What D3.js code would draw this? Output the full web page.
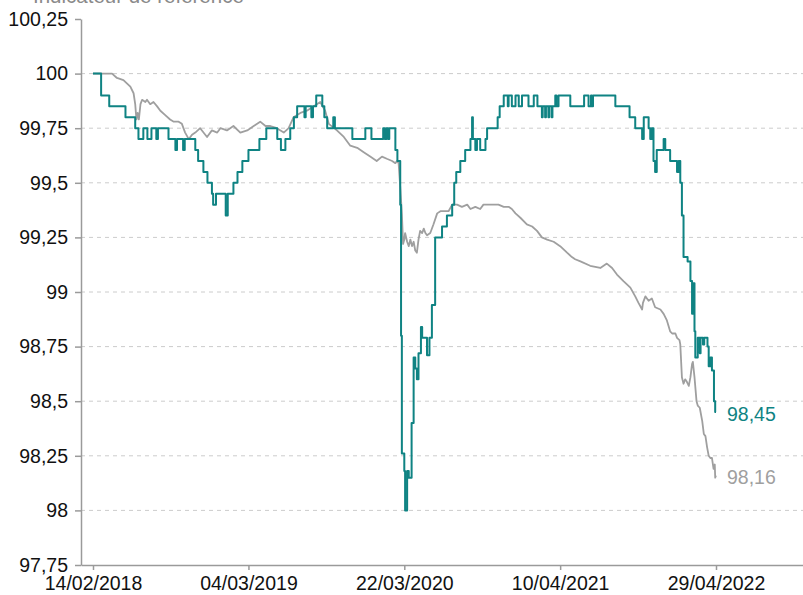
<!DOCTYPE html>
<html>
<head>
<meta charset="utf-8">
<script src="https://cdn.jsdelivr.net/npm/d3@7"></script>
<style>
  body { margin: 0; background: #fff; }
  svg { display: block; }
  text { font-family: "Liberation Sans", Arial, Helvetica, sans-serif; }
</style>
</head>
<body>
<div id="chart"></div>
<script>
// Fund vs reference index, base 100 on 14/02/2018

var chartTitle = "Indicateur de référence";

// y axis ticks (base 100)
var yTicks = [97.75, 98, 98.25, 98.5, 98.75, 99, 99.25, 99.5, 99.75, 100, 100.25];
var gridTicks = [98, 98.25, 98.5, 98.75, 99, 99.25, 99.5, 99.75, 100];

// x axis tick dates
var xTickDates = ["2018-02-14", "2019-03-04", "2020-03-22", "2021-04-10", "2022-04-29"];

// fund (teal), step series [date, value]
var fundSeries = [
    ["2018-02-14",100.00],["2018-03-06",99.90],["2018-03-26",99.85],["2018-05-05",99.80],
    ["2018-05-29",99.75],["2018-06-06",99.70],["2018-06-18",99.75],["2018-06-28",99.70],
    ["2018-07-08",99.75],["2018-07-20",99.70],["2018-07-24",99.75],["2018-08-19",99.70],
    ["2018-09-05",99.65],["2018-09-09",99.70],["2018-09-24",99.65],["2018-09-28",99.70],
    ["2018-10-24",99.65],["2018-10-31",99.60],["2018-11-13",99.55],["2018-11-23",99.50],
    ["2018-12-04",99.45],["2018-12-07",99.40],["2018-12-14",99.45],["2019-01-07",99.35],
    ["2019-01-12",99.45],["2019-01-26",99.50],["2019-02-05",99.55],["2019-02-17",99.60],
    ["2019-03-04",99.65],["2019-03-31",99.70],["2019-04-17",99.75],["2019-05-14",99.70],
    ["2019-05-23",99.65],["2019-06-03",99.70],["2019-06-15",99.75],["2019-06-24",99.80],
    ["2019-07-02",99.85],["2019-07-20",99.80],["2019-07-23",99.85],["2019-08-06",99.80],
    ["2019-08-10",99.85],["2019-08-18",99.90],["2019-09-02",99.85],["2019-09-07",99.80],
    ["2019-09-14",99.75],["2019-09-29",99.80],["2019-10-03",99.75],["2019-11-15",99.70],
    ["2019-12-17",99.75],["2020-01-01",99.70],["2020-01-30",99.75],["2020-02-03",99.70],
    ["2020-02-07",99.75],["2020-02-11",99.70],["2020-02-14",99.75],["2020-02-29",99.65],
    ["2020-03-05",99.60],["2020-03-12",99.40],["2020-03-14",98.80],["2020-03-16",98.26],
    ["2020-03-22",98.18],["2020-03-24",98.00],["2020-03-29",98.18],["2020-04-02",98.15],
    ["2020-04-09",98.40],["2020-04-14",98.70],["2020-04-18",98.65],["2020-04-22",98.60],
    ["2020-04-26",98.72],["2020-05-02",98.84],["2020-05-05",98.79],["2020-05-17",98.71],
    ["2020-05-23",98.79],["2020-05-29",98.94],["2020-06-06",99.25],["2020-06-23",99.30],
    ["2020-07-05",99.35],["2020-07-18",99.40],["2020-07-23",99.50],["2020-07-28",99.55],
    ["2020-08-07",99.60],["2020-08-19",99.65],["2020-09-01",99.70],["2020-09-05",99.80],
    ["2020-09-07",99.70],["2020-09-13",99.65],["2020-09-17",99.70],["2020-09-25",99.65],
    ["2020-10-08",99.70],["2020-10-12",99.75],["2020-11-07",99.80],["2020-11-12",99.85],
    ["2020-11-22",99.90],["2020-12-02",99.85],["2020-12-04",99.90],["2020-12-12",99.85],
    ["2020-12-21",99.90],["2020-12-29",99.85],["2021-01-06",99.90],["2021-01-22",99.85],
    ["2021-02-04",99.90],["2021-02-13",99.85],["2021-02-24",99.80],["2021-02-26",99.85],
    ["2021-03-04",99.80],["2021-03-06",99.85],["2021-03-12",99.80],["2021-03-14",99.85],
    ["2021-03-20",99.80],["2021-03-22",99.85],["2021-03-29",99.90],["2021-04-01",99.85],
    ["2021-04-06",99.90],["2021-05-05",99.85],["2021-06-08",99.90],["2021-06-19",99.85],
    ["2021-06-25",99.90],["2021-06-27",99.85],["2021-06-30",99.90],["2021-08-24",99.85],
    ["2021-09-28",99.80],["2021-10-12",99.75],["2021-10-29",99.70],["2021-11-02",99.80],
    ["2021-11-14",99.75],["2021-11-18",99.70],["2021-11-22",99.75],["2021-11-26",99.60],
    ["2021-11-30",99.55],["2021-12-04",99.65],["2021-12-21",99.70],["2021-12-25",99.65],
    ["2022-01-06",99.60],["2022-01-23",99.55],["2022-01-27",99.60],["2022-01-31",99.50],
    ["2022-02-04",99.35],["2022-02-08",99.16],["2022-02-18",99.14],["2022-02-25",99.05],
    ["2022-03-01",98.90],["2022-03-03",99.04],["2022-03-07",98.82],["2022-03-09",98.70],
    ["2022-03-15",98.79],["2022-03-20",98.72],["2022-03-22",98.79],["2022-03-28",98.76],
    ["2022-03-31",98.79],["2022-04-08",98.75],["2022-04-11",98.66],["2022-04-15",98.70],
    ["2022-04-19",98.64],["2022-04-24",98.50],["2022-04-27",98.45],["2022-04-29",98.45]
];

// reference index (grey) [date, value]
var refSeries = [
    ["2018-02-14",100.00],["2018-04-02",100.00],["2018-04-14",99.98],["2018-04-30",99.97],
    ["2018-05-17",99.94],["2018-05-25",99.91],["2018-05-29",99.86],["2018-06-01",99.79],
    ["2018-06-04",99.82],["2018-06-07",99.79],["2018-06-11",99.86],["2018-06-15",99.88],
    ["2018-06-23",99.87],["2018-06-27",99.88],["2018-07-05",99.86],["2018-07-13",99.87],
    ["2018-07-22",99.85],["2018-07-30",99.83],["2018-08-11",99.81],["2018-08-23",99.79],
    ["2018-09-01",99.78],["2018-09-13",99.78],["2018-09-21",99.77],["2018-09-29",99.73],
    ["2018-10-08",99.70],["2018-10-16",99.72],["2018-10-24",99.73],["2018-11-05",99.75],
    ["2018-11-22",99.71],["2018-12-04",99.74],["2018-12-17",99.73],["2018-12-25",99.75],
    ["2019-01-10",99.74],["2019-01-26",99.76],["2019-02-12",99.73],["2019-03-01",99.74],
    ["2019-03-17",99.76],["2019-04-02",99.78],["2019-04-15",99.76],["2019-04-27",99.76],
    ["2019-05-13",99.75],["2019-05-30",99.73],["2019-06-11",99.75],["2019-06-23",99.80],
    ["2019-07-10",99.82],["2019-07-26",99.83],["2019-08-12",99.85],["2019-08-28",99.87],
    ["2019-09-09",99.83],["2019-09-18",99.77],["2019-10-08",99.74],["2019-10-25",99.71],
    ["2019-11-10",99.67],["2019-11-27",99.66],["2019-12-13",99.64],["2019-12-29",99.62],
    ["2020-01-14",99.60],["2020-01-27",99.62],["2020-02-08",99.61],["2020-02-21",99.60],
    ["2020-02-29",99.59],["2020-03-04",99.60],["2020-03-08",99.59],["2020-03-12",99.48],
    ["2020-03-16",99.36],["2020-03-19",99.22],["2020-03-22",99.24],["2020-03-24",99.27],
    ["2020-03-29",99.23],["2020-04-02",99.21],["2020-04-06",99.24],["2020-04-10",99.21],
    ["2020-04-14",99.23],["2020-04-18",99.19],["2020-04-22",99.18],["2020-04-26",99.24],
    ["2020-04-30",99.28],["2020-05-05",99.27],["2020-05-09",99.29],["2020-05-13",99.27],
    ["2020-05-17",99.26],["2020-05-25",99.27],["2020-06-02",99.31],["2020-06-11",99.36],
    ["2020-06-19",99.37],["2020-06-27",99.37],["2020-07-09",99.37],["2020-07-18",99.40],
    ["2020-07-30",99.40],["2020-08-11",99.39],["2020-08-24",99.40],["2020-09-01",99.38],
    ["2020-09-13",99.39],["2020-09-25",99.38],["2020-10-03",99.40],["2020-10-16",99.40],
    ["2020-10-28",99.40],["2020-11-09",99.40],["2020-11-22",99.39],["2020-12-04",99.39],
    ["2020-12-12",99.38],["2020-12-21",99.36],["2021-01-02",99.34],["2021-01-18",99.31],
    ["2021-01-31",99.30],["2021-02-12",99.28],["2021-02-24",99.25],["2021-03-09",99.24],
    ["2021-03-25",99.23],["2021-04-10",99.21],["2021-04-27",99.18],["2021-05-09",99.16],
    ["2021-05-17",99.15],["2021-05-30",99.14],["2021-06-23",99.12],["2021-07-18",99.11],
    ["2021-08-03",99.13],["2021-08-16",99.11],["2021-08-28",99.08],["2021-09-13",99.05],
    ["2021-09-30",99.02],["2021-10-12",98.98],["2021-10-20",98.95],["2021-10-29",98.92],
    ["2021-10-31",98.95],["2021-11-06",98.98],["2021-11-14",98.96],["2021-11-22",98.97],
    ["2021-11-30",98.93],["2021-12-13",98.92],["2021-12-21",98.90],["2021-12-29",98.87],
    ["2022-01-06",98.82],["2022-01-11",98.81],["2022-01-19",98.81],["2022-01-23",98.79],
    ["2022-01-29",98.78],["2022-01-31",98.76],["2022-02-04",98.61],["2022-02-08",98.58],
    ["2022-02-12",98.60],["2022-02-16",98.59],["2022-02-21",98.57],["2022-02-25",98.61],
    ["2022-03-01",98.67],["2022-03-03",98.68],["2022-03-07",98.61],["2022-03-12",98.50],
    ["2022-03-15",98.48],["2022-03-20",98.47],["2022-03-26",98.41],["2022-03-30",98.35],
    ["2022-04-03",98.34],["2022-04-07",98.29],["2022-04-11",98.25],["2022-04-15",98.24],
    ["2022-04-19",98.24],["2022-04-23",98.19],["2022-04-26",98.21],["2022-04-27",98.15],
    ["2022-04-29",98.16]
];

var fundColor = "#0f8383";
var refColor = "#9f9f9f";

function renderChart(containerId) {
    var totalW = 803, totalH = 595;
    var margin = { top: 19, right: 0, bottom: 30, left: 81 };
    var width = totalW - margin.left - margin.right;
    var height = totalH - margin.top - margin.bottom;

    var parseDate = d3.timeParse("%Y-%m-%d");
    var fmtTick = d3.timeFormat("%d/%m/%Y");
    var fmtNum = function(v) { return String(v).replace(".", ","); };

    var fund = fundSeries.map(function(d) { return { date: parseDate(d[0]), value: d[1] }; });
    var ref = refSeries.map(function(d) { return { date: parseDate(d[0]), value: d[1] }; });
    var tickDates = xTickDates.map(parseDate);

    var svg = d3.select("#" + containerId).append("svg")
        .attr("width", totalW)
        .attr("height", totalH);

    // title (mostly cropped above the top edge, as in the source)
    svg.append("text")
        .attr("x", 33)
        .attr("y", 2.5)
        .style("font-size", "20.5px")
        .style("fill", "#8a8a8a")
        .text(chartTitle);

    var g = svg.append("g")
        .attr("transform", "translate(" + margin.left + "," + margin.top + ")");

    // data span sits inside the axis with padding on both sides
    var xBase = d3.scaleTime()
        .domain([tickDates[0], tickDates[tickDates.length - 1]])
        .range([12, 635]);
    var x = d3.scaleTime()
        .domain([xBase.invert(0), xBase.invert(width)])
        .range([0, width]);

    var y = d3.scaleLinear()
        .domain([yTicks[0], yTicks[yTicks.length - 1]])
        .range([height, 0]);

    // --- Grid lines ---
    g.append("g")
        .attr("class", "grid")
        .selectAll("line")
        .data(gridTicks)
        .enter().append("line")
        .attr("x1", 0)
        .attr("x2", width)
        .attr("y1", function(d) { return y(d); })
        .attr("y2", function(d) { return y(d); })
        .style("stroke", "#cccccc")
        .style("stroke-width", 1)
        .style("stroke-dasharray", "4,4");

    // --- Axes ---
    var yAxis = g.append("g")
        .attr("class", "y-axis")
        .call(d3.axisLeft(y).tickValues(yTicks).tickFormat(fmtNum)
            .tickSize(6).tickSizeOuter(0).tickPadding(7));

    var xAxis = g.append("g")
        .attr("class", "x-axis")
        .attr("transform", "translate(0," + height + ")")
        .call(d3.axisBottom(x).tickValues(tickDates).tickFormat(fmtTick)
            .tickSize(5).tickSizeOuter(0).tickPadding(6));

    [yAxis, xAxis].forEach(function(ax) {
        ax.selectAll("path, line")
            .style("stroke", "#9a9a9a")
            .style("stroke-width", 1.5);
        ax.selectAll("text")
            .style("font-size", "19.5px")
            .style("fill", "#111");
    });

    // --- Lines ---
    var refLine = d3.line()
        .x(function(d) { return x(d.date); })
        .y(function(d) { return y(d.value); });

    var fundLine = d3.line()
        .curve(d3.curveStepAfter)
        .x(function(d) { return x(d.date); })
        .y(function(d) { return y(d.value); });

    g.append("path")
        .datum(ref)
        .attr("fill", "none")
        .attr("stroke", refColor)
        .attr("stroke-width", 1.8)
        .attr("stroke-linejoin", "round")
        .attr("d", refLine);

    g.append("path")
        .datum(fund)
        .attr("fill", "none")
        .attr("stroke", fundColor)
        .attr("stroke-width", 2)
        .attr("stroke-linejoin", "round")
        .attr("d", fundLine);

    // --- End labels ---
    [[fund, fundColor], [ref, refColor]].forEach(function(s) {
        var last = s[0][s[0].length - 1];
        g.append("text")
            .attr("x", x(last.date) + 11)
            .attr("y", y(last.value))
            .attr("dy", "0.45em")
            .style("font-size", "19.5px")
            .style("fill", s[1])
            .text(fmtNum(last.value.toFixed(2)));
    });
}

renderChart("chart");
</script>
</body>
</html>
